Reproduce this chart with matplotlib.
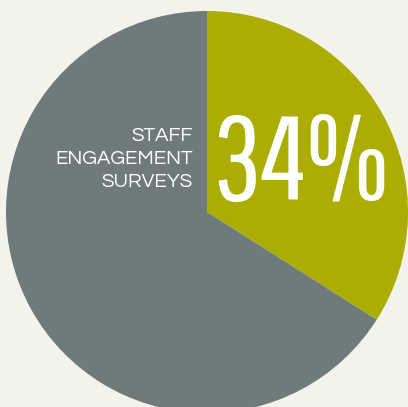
import matplotlib
matplotlib.use("Agg")
import matplotlib.pyplot as plt

# data
labels = ["Staff engagement surveys", "Other"]
shares = [34, 66]
headline = "34%"
caption = "STAFF\nENGAGEMENT\nSURVEYS"

# palette
CLR_BG = "#f3f2eb"
CLR_OLIVE = "#abad00"
CLR_GREY = "#6f7b7a"
CLR_TEXT = "#ffffff"

W, H = 408, 407
fig = plt.figure(figsize=(W / 100, H / 100), dpi=100)
fig.patch.set_facecolor(CLR_BG)
ax = fig.add_axes([0, 0, 1, 1])
ax.set_facecolor(CLR_BG)

cx, cy, r = 207, H - 212, 201
ax.pie(shares, colors=[CLR_OLIVE, CLR_GREY], startangle=90, counterclock=False,
       center=(cx, cy), radius=r, wedgeprops={"linewidth": 0})

ax.text(212, H - 200, headline, ha="left", va="baseline",
        fontsize=86, color=CLR_TEXT, family=["Pathway Gothic One", "DejaVu Sans"])
ax.text(193, H - 159, caption, ha="right", va="center", multialignment="right",
        fontsize=14.7, color=CLR_TEXT, linespacing=1.33, family=["Questrial", "DejaVu Sans"])

ax.set_xlim(0, W)
ax.set_ylim(0, H)
ax.axis("off")
fig.savefig("out.png", dpi=100, facecolor=CLR_BG)
